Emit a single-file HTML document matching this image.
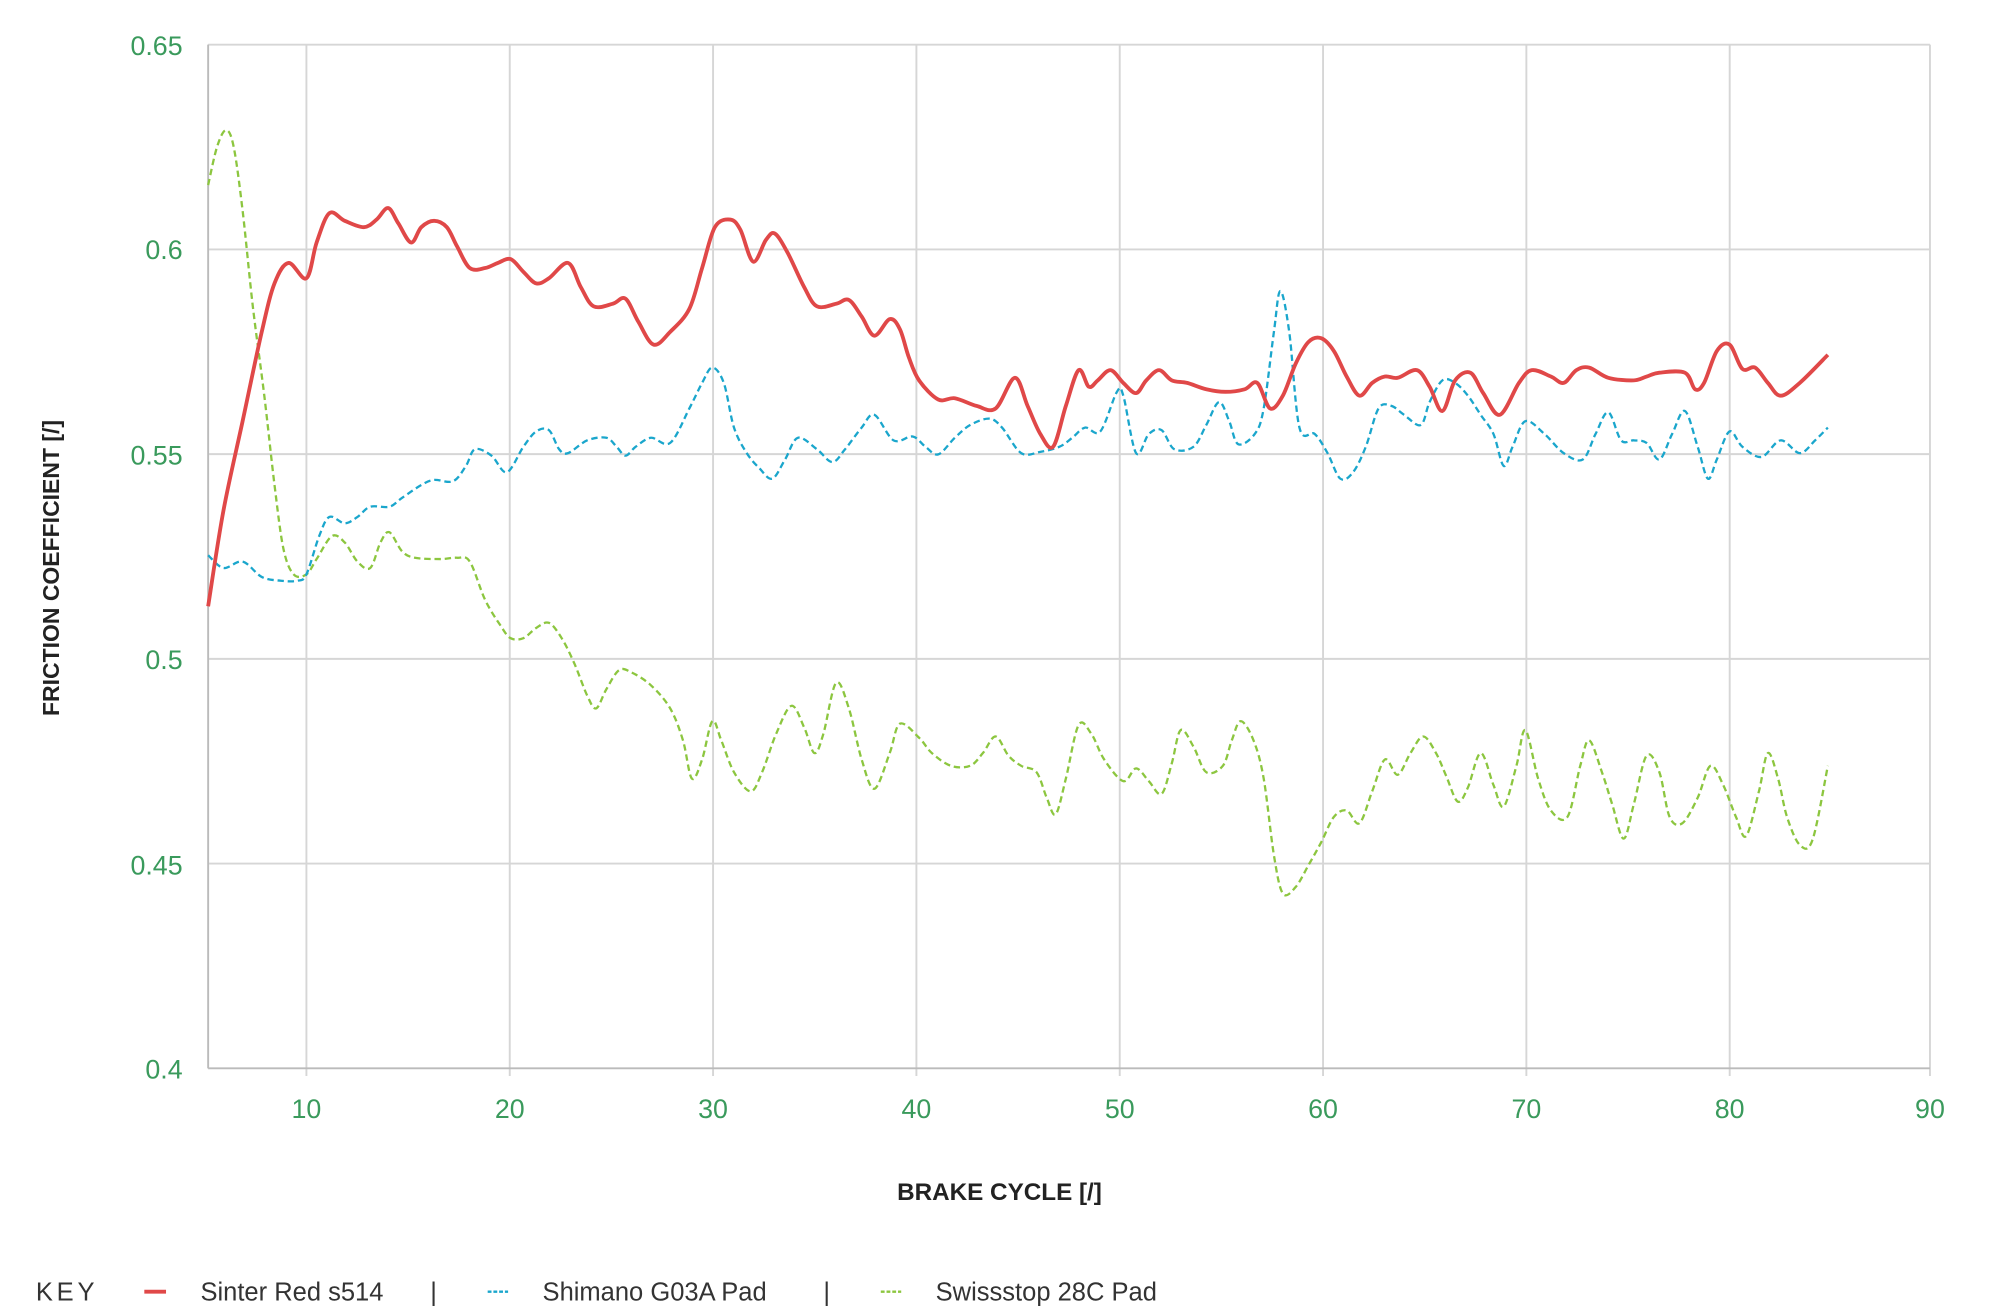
<!DOCTYPE html>
<html><head><meta charset="utf-8"><style>html,body{margin:0;padding:0;background:#fff}svg{display:block}</style></head>
<body>
<svg id="s" width="2000" height="1307" viewBox="0 0 1566.8 1024" xmlns="http://www.w3.org/2000/svg" font-family="Liberation Sans, sans-serif">
<g stroke="#d6d6d6" stroke-width="1.5" fill="none">
<line x1="163" y1="35" x2="1512" y2="35"/><line x1="163" y1="195.4" x2="1512" y2="195.4"/><line x1="163" y1="355.8" x2="1512" y2="355.8"/><line x1="163" y1="516.2" x2="1512" y2="516.2"/><line x1="163" y1="676.6" x2="1512" y2="676.6"/>
<line x1="240" y1="35" x2="240" y2="843"/><line x1="399.3" y1="35" x2="399.3" y2="843"/><line x1="558.6" y1="35" x2="558.6" y2="843"/><line x1="717.9" y1="35" x2="717.9" y2="843"/><line x1="877.2" y1="35" x2="877.2" y2="843"/><line x1="1036.5" y1="35" x2="1036.5" y2="843"/><line x1="1195.8" y1="35" x2="1195.8" y2="843"/><line x1="1355.1" y1="35" x2="1355.1" y2="843"/><line x1="1512" y1="35" x2="1512" y2="843"/>
</g>
<g stroke="#bbb" stroke-width="1.5"><line x1="163" y1="35" x2="163" y2="837"/><line x1="163" y1="837" x2="1512" y2="837"/></g>
<g fill="#3a9a5c" font-size="21" text-anchor="end">
<text x="143" y="43">0.65</text><text x="143" y="203">0.6</text><text x="143" y="364">0.55</text><text x="143" y="524">0.5</text><text x="143" y="685">0.45</text><text x="143" y="845">0.4</text>
</g>
<g fill="#3a9a5c" font-size="21" text-anchor="middle">
<text x="240" y="876">10</text><text x="399.3" y="876">20</text><text x="558.6" y="876">30</text><text x="717.9" y="876">40</text><text x="877.2" y="876">50</text><text x="1036.5" y="876">60</text><text x="1195.8" y="876">70</text><text x="1355.1" y="876">80</text><text x="1512" y="876">90</text>
</g>
<text x="783" y="940" text-anchor="middle" font-size="19" font-weight="bold" fill="#222">BRAKE CYCLE [/]</text>
<text transform="translate(46,445) rotate(-90)" text-anchor="middle" font-size="18" font-weight="bold" fill="#222">FRICTION COEFFICIENT  [/]</text>
<g font-size="20" fill="#333">
<text x="28" y="1019" letter-spacing="3">KEY</text>
<line x1="113" y1="1012" x2="130" y2="1012" stroke="#e04848" stroke-width="3"/>
<text x="157" y="1019">Sinter Red s514</text><text x="337" y="1019">|</text>
<line x1="382" y1="1012" x2="398" y2="1012" stroke="#1aa6cc" stroke-width="1.8" stroke-dasharray="3 1.5"/>
<text x="425" y="1019">Shimano G03A Pad</text><text x="645" y="1019">|</text>
<line x1="690" y1="1012" x2="706" y2="1012" stroke="#8cc63f" stroke-width="1.8" stroke-dasharray="3 1.5"/>
<text x="733" y="1019">Swissstop 28C Pad</text>
</g>
<path id="g" fill="none" stroke="#8cc63f" stroke-width="1.8" stroke-dasharray="5 3"/>
<path id="b" fill="none" stroke="#1aa6cc" stroke-width="1.8" stroke-dasharray="5 3"/>
<path id="r" fill="none" stroke="#e04848" stroke-width="3" stroke-linejoin="round"/>
</svg>
<script>
function cr(p){var d="M"+p[0][0]+","+p[0][1];for(var i=0;i<p.length-1;i++){var a=p[i-1]||p[i],b=p[i],c=p[i+1],e=p[i+2]||c;d+=" C"+(b[0]+(c[0]-a[0])/6)+","+(b[1]+(c[1]-a[1])/6)+" "+(c[0]-(e[0]-b[0])/6)+","+(c[1]-(e[1]-b[1])/6)+" "+c[0]+","+c[1];}return d;}
function P(s){var n=s.split(/[ ,]+/).map(Number),o=[];for(var i=0;i<n.length;i+=2)o.push([n[i],n[i+1]]);return o;}
var R=P("163,475 175,400 190,330 205,260 215,222 226,206 240,218 248,190 258,167 270,173 285,178 295,172 304,163 312,175 322,190 330,178 340,173 350,178 358,193 368,210 380,210 390,206 400,203 410,213 420,222 430,218 445,206 455,225 465,240 480,238 490,234 500,252 512,270 525,260 540,242 550,210 560,178 572,172 580,180 590,205 600,188 607,183 617,198 630,225 640,240 655,238 665,235 675,248 685,263 697,250 705,258 712,280 720,298 735,313 748,312 765,318 780,320 795,296 805,318 815,340 825,350 835,318 845,290 853,303 860,298 870,290 880,300 890,308 898,298 908,290 918,298 930,300 945,305 960,307 975,305 985,300 995,320 1005,310 1015,285 1025,268 1035,265 1045,275 1055,295 1065,310 1075,300 1085,295 1095,296 1110,290 1120,303 1130,322 1140,298 1152,292 1162,308 1175,325 1190,300 1200,290 1215,295 1225,300 1235,290 1245,288 1260,296 1280,298 1290,295 1300,292 1320,292 1328,305 1335,300 1345,275 1355,270 1365,289 1375,288 1385,300 1395,310 1410,300 1432,278");
var B=P("163,435 175,445 190,440 205,452 220,455 233,455 240,450 250,420 258,405 270,410 280,405 290,397 305,397 315,390 330,380 340,376 355,377 365,365 372,352 385,357 397,370 410,350 420,338 430,337 438,352 445,355 460,345 475,343 483,350 490,357 498,350 510,343 525,347 540,320 550,300 558,288 567,300 575,335 585,355 595,367 605,375 615,360 625,343 640,352 652,362 662,352 675,335 685,325 700,345 715,342 725,350 735,356 748,343 760,333 775,328 785,335 800,355 815,354 830,350 840,343 850,335 862,338 875,307 880,310 890,355 900,340 910,337 920,352 935,350 945,333 955,315 963,330 970,348 983,340 990,320 998,260 1003,228 1010,260 1018,335 1030,340 1040,355 1050,375 1060,370 1070,350 1080,320 1090,318 1100,325 1113,333 1120,315 1130,298 1140,300 1150,310 1160,325 1170,340 1178,365 1185,350 1195,330 1210,340 1225,355 1240,360 1250,340 1260,323 1270,345 1280,345 1290,347 1300,360 1310,340 1320,322 1330,350 1338,375 1345,360 1355,338 1365,350 1380,358 1395,345 1410,355 1422,345 1432,335");
var G=P("163,145 170,115 177,102 183,115 190,165 198,240 207,310 215,380 222,430 230,450 240,450 248,438 260,420 270,425 280,440 290,445 298,425 305,417 315,432 325,437 345,438 358,437 368,440 380,470 392,490 400,500 410,500 420,492 430,488 440,500 450,520 460,545 467,555 475,540 485,525 495,527 510,537 525,555 535,580 542,610 550,595 558,565 565,580 575,605 588,620 597,605 608,575 620,553 630,570 638,590 645,575 655,535 665,555 675,595 685,618 697,590 705,567 720,578 730,590 745,600 760,600 770,590 780,577 790,592 800,600 812,605 820,625 827,638 835,610 845,568 855,575 865,595 880,612 890,602 900,612 910,622 918,598 925,572 935,585 945,605 958,600 965,580 972,565 982,580 990,610 998,670 1005,700 1015,695 1025,678 1035,660 1045,640 1055,635 1065,645 1075,620 1085,595 1095,607 1105,590 1115,577 1125,590 1133,608 1142,628 1150,617 1160,590 1170,615 1178,632 1188,600 1195,572 1205,610 1215,635 1228,640 1238,600 1245,580 1255,605 1263,630 1272,657 1280,630 1290,592 1300,605 1308,640 1318,645 1330,625 1340,600 1350,615 1360,640 1368,655 1378,620 1385,590 1393,610 1400,640 1410,662 1420,658 1432,600");
document.getElementById("r").setAttribute("d",cr(R));
document.getElementById("b").setAttribute("d",cr(B));
document.getElementById("g").setAttribute("d",cr(G));
</script>
</body></html>
